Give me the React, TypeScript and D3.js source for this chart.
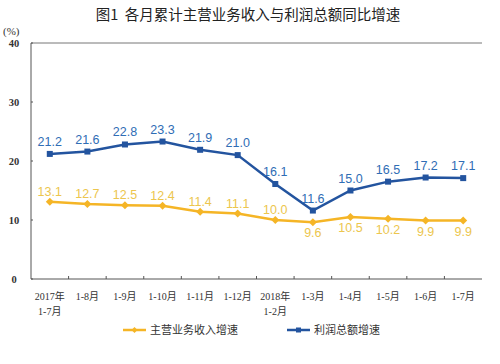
import React from "react";
import * as d3 from "d3";

const categories = [
  ["2017年", "1-7月"],
  ["1-8月"],
  ["1-9月"],
  ["1-10月"],
  ["1-11月"],
  ["1-12月"],
  ["2018年", "1-2月"],
  ["1-3月"],
  ["1-4月"],
  ["1-5月"],
  ["1-6月"],
  ["1-7月"],
];
const revenue = [13.1, 12.7, 12.5, 12.4, 11.4, 11.1, 10.0, 9.6, 10.5, 10.2, 9.9, 9.9];
const profit = [21.2, 21.6, 22.8, 23.3, 21.9, 21.0, 16.1, 11.6, 15.0, 16.5, 17.2, 17.1];
// which revenue labels sit under the point
const revenueBelow = [false, false, false, false, false, false, false, true, true, true, true, true];
const yTicks = [0, 10, 20, 30, 40];

const YELLOW = "#f5b526";
const YELLOW_TXT = "#ecc64e";
const BLUE = "#23549f";
const BLUE_TXT = "#2f6db5";
const CJK = "'Noto Sans CJK SC', sans-serif";
const SERIF = "'Liberation Serif', 'Noto Sans CJK SC', serif";
const SANS = "'Liberation Sans', Arial, sans-serif";

const App = () => {
  const width = 500;
  const height = 364;
  const margin = { top: 43, right: 18, bottom: 85, left: 31 };
  const innerWidth = width - margin.left - margin.right;
  const innerHeight = height - margin.top - margin.bottom;

  const xScale = d3
    .scaleBand<number>()
    .domain(d3.range(categories.length))
    .range([0, innerWidth]);
  const yScale = d3.scaleLinear().domain([0, 40]).range([innerHeight, 0]);
  const cx = (i: number) => xScale(i)! + xScale.bandwidth() / 2;

  const line = d3
    .line<number>()
    .x((d, i) => cx(i))
    .y((d) => yScale(d));

  return (
    <svg
      width={width}
      height={height}
      style={{ position: "absolute", left: 0, top: 0, background: "#fff" }}
    >
      <text
        x={248}
        y={20}
        textAnchor="middle"
        fontFamily={CJK}
        fontSize={14.5}
        fill="#222"
        style={{ whiteSpace: "pre" }}
      >
        {"图1  各月累计主营业务收入与利润总额同比增速"}
      </text>
      <text x={3} y={35} fontFamily={SERIF} fontSize={11} fill="#333">
        (%)
      </text>
      <g transform={`translate(${margin.left},${margin.top})`}>
        {/* top border */}
        <line x1={0} x2={innerWidth} y1={0} y2={0} stroke="#777" strokeWidth={1} />
        {/* y axis */}
        <line x1={0} x2={0} y1={0} y2={innerHeight} stroke="#555" strokeWidth={1} />
        {yTicks.map((t) => (
          <g key={t} transform={`translate(0,${yScale(t)})`}>
            <line x2={2} stroke="#555" />
            <text
              x={-17}
              dy=".35em"
              textAnchor="middle"
              fontFamily={SERIF}
              fontWeight="bold"
              fontSize={10.5}
              fill="#333"
            >
              {t}
            </text>
          </g>
        ))}
        {/* x axis */}
        <line x1={0} x2={innerWidth} y1={innerHeight} y2={innerHeight} stroke="#555" strokeWidth={1} />
        {categories.map((c, i) => (
          <g key={i}>
            {i > 0 && (
              <line
                x1={xScale(i)}
                x2={xScale(i)}
                y1={innerHeight}
                y2={innerHeight - 3}
                stroke="#555"
              />
            )}
            {c.map((s, j) => (
              <text
                key={j}
                x={cx(i)}
                y={innerHeight + 21 + j * 15}
                textAnchor="middle"
                fontFamily={SERIF}
                fontSize={10}
                fill="#333"
              >
                {s}
              </text>
            ))}
          </g>
        ))}
        {/* lines */}
        <path d={line(profit)!} fill="none" stroke={BLUE} strokeWidth={2.5} />
        <path d={line(revenue)!} fill="none" stroke={YELLOW} strokeWidth={2.5} />
        {profit.map((v, i) => (
          <g key={"p" + i}>
            <rect x={cx(i) - 3} y={yScale(v) - 3} width={6} height={6} fill={BLUE} />
            <text
              x={cx(i)}
              y={yScale(v) - 8}
              textAnchor="middle"
              fontFamily={SANS}
              fontSize={12.5}
              fill={BLUE_TXT}
            >
              {v.toFixed(1)}
            </text>
          </g>
        ))}
        {revenue.map((v, i) => (
          <g key={"r" + i}>
            <path
              d={`M${cx(i)},${yScale(v) - 4}l4,4l-4,4l-4,-4z`}
              fill={YELLOW}
            />
            <text
              x={cx(i)}
              y={revenueBelow[i] ? yScale(v) + 15 : yScale(v) - 6}
              textAnchor="middle"
              fontFamily={SANS}
              fontSize={12.5}
              fill={YELLOW_TXT}
            >
              {v.toFixed(1)}
            </text>
          </g>
        ))}
      </g>
      {/* legend */}
      <g transform="translate(123,330)">
        <line x1={0} x2={23} stroke={YELLOW} strokeWidth={2.5} />
        <path d="M11.5,-3l3,3l-3,3l-3,-3z" fill={YELLOW} />
        <text x={27} dy=".35em" fontFamily={CJK} fontSize={11} fill="#333">
          主营业务收入增速
        </text>
      </g>
      <g transform="translate(287,330)">
        <line x1={0} x2={23} stroke={BLUE} strokeWidth={2.5} />
        <rect x={9} y={-2.5} width={5} height={5} fill={BLUE} />
        <text x={27} dy=".35em" fontFamily={CJK} fontSize={11} fill="#333">
          利润总额增速
        </text>
      </g>
    </svg>
  );
};

export default App;
